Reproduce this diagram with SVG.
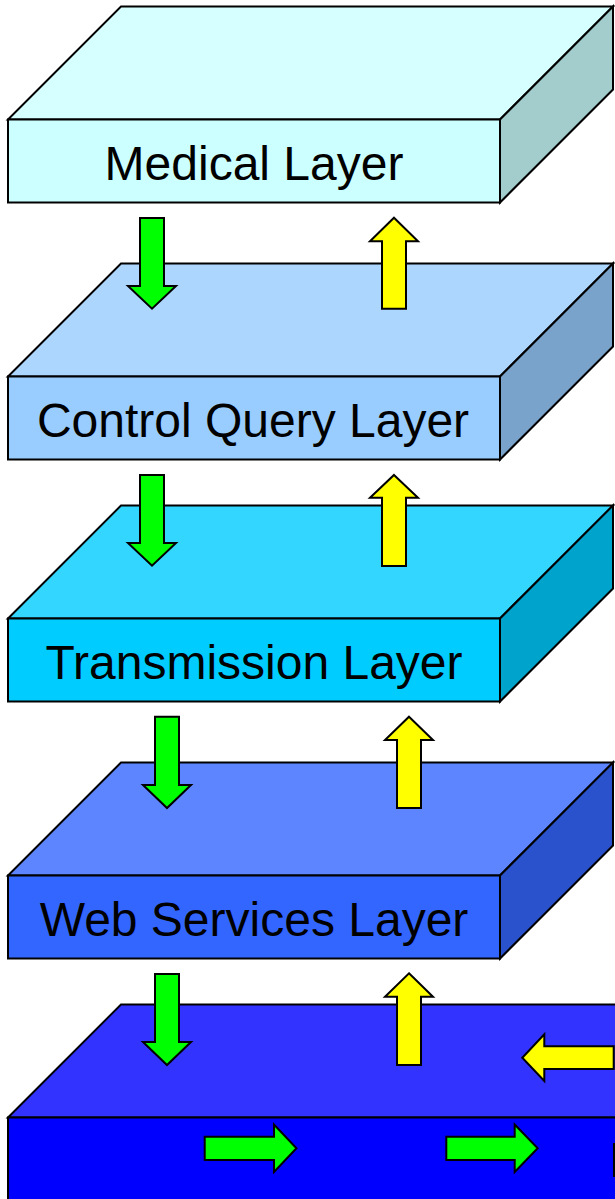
<svg xmlns="http://www.w3.org/2000/svg" width="615" height="1199" viewBox="0 0 615 1199">
<style>
.e{stroke:#000;stroke-width:2;stroke-linejoin:miter}
.lbl{font-family:"Liberation Sans",Arial,sans-serif;font-size:48px;fill:#000;text-anchor:middle}
.g{fill:#00FF00;stroke:#000;stroke-width:2}
.y{fill:#FFFF00;stroke:#000;stroke-width:2}
</style>
<rect width="615" height="1199" fill="#fff"/>
<g id="medical-layer">
<polygon class="e" fill="#D6FFFF" points="8,119.5 121,6.5 613,6.5 500,119.5"/>
<polygon class="e" fill="#A3CCCC" points="500,119.5 613,6.5 613,89.5 500,202.5"/>
<rect class="e" fill="#CCFFFF" x="8" y="119.5" width="492" height="83"/>
<text class="lbl" x="254" y="180">Medical Layer</text>
</g>
<g id="control-query-layer">
<polygon class="e" fill="#ADD6FF" points="8,376.5 121,263.5 613,263.5 500,376.5"/>
<polygon class="e" fill="#7AA3CC" points="500,376.5 613,263.5 613,346.5 500,459.5"/>
<rect class="e" fill="#99CCFF" x="8" y="376.5" width="492" height="83"/>
<text class="lbl" x="253" y="437">Control Query Layer</text>
</g>
<g id="transmission-layer">
<polygon class="e" fill="#33D6FF" points="8,618.5 121,505.5 613,505.5 500,618.5"/>
<polygon class="e" fill="#00A3CC" points="500,618.5 613,505.5 613,588.5 500,701.5"/>
<rect class="e" fill="#00CCFF" x="8" y="618.5" width="492" height="83"/>
<text class="lbl" x="254" y="679">Transmission Layer</text>
</g>
<g id="web-services-layer">
<polygon class="e" fill="#5C85FF" points="8,875.5 121,762.5 613,762.5 500,875.5"/>
<polygon class="e" fill="#2952CC" points="500,875.5 613,762.5 613,845.5 500,958.5"/>
<rect class="e" fill="#3366FF" x="8" y="875.5" width="492" height="83"/>
<text class="lbl" x="254" y="936">Web Services Layer</text>
</g>
<g id="base-layer">
<polygon class="e" fill="#3333FF" points="8,1117.5 121,1004.5 625,1004.5 625,1117.5"/>
<rect class="e" fill="#0000FF" x="8" y="1117.5" width="620" height="100"/>
<line class="e" x1="614" y1="1143" x2="614" y2="1177"/>
</g>
<g id="connectors">
<polygon class="g" points="140,218 164,218 164,286 176,286 152,308.7 128,286 140,286"/>
<polygon class="g" points="140,475 164,475 164,543 176,543 152,565.7 128,543 140,543"/>
<polygon class="g" points="155,716.7 179,716.7 179,785 191,785 167,808 143,785 155,785"/>
<polygon class="g" points="155,974 179,974 179,1042 191,1042 167,1065 143,1042 155,1042"/>
<polygon class="y" points="394,217.7 418,241.3 406,241.3 406,308.7 382,308.7 382,241.3 370,241.3"/>
<polygon class="y" points="394,475 418,497.7 406,497.7 406,566 382,566 382,497.7 370,497.7"/>
<polygon class="y" points="409,716.7 433,740 421,740 421,808 397,808 397,740 385,740"/>
<polygon class="y" points="409,973.3 433,996.7 421,996.7 421,1065 397,1065 397,996.7 385,996.7"/>
<polygon class="y" points="522.3,1057.7 544.3,1034.3 544.3,1046.3 613.7,1046.3 613.7,1069 544.3,1069 544.3,1081"/>
<polygon class="g" points="204.7,1136.7 274,1136.7 274,1124.5 296.5,1148.3 274,1172 274,1160 204.7,1160"/>
<polygon class="g" points="446.3,1136.7 514.7,1136.7 514.7,1124.5 537.7,1148.3 514.7,1172 514.7,1160 446.3,1160"/>
</g>
</svg>
